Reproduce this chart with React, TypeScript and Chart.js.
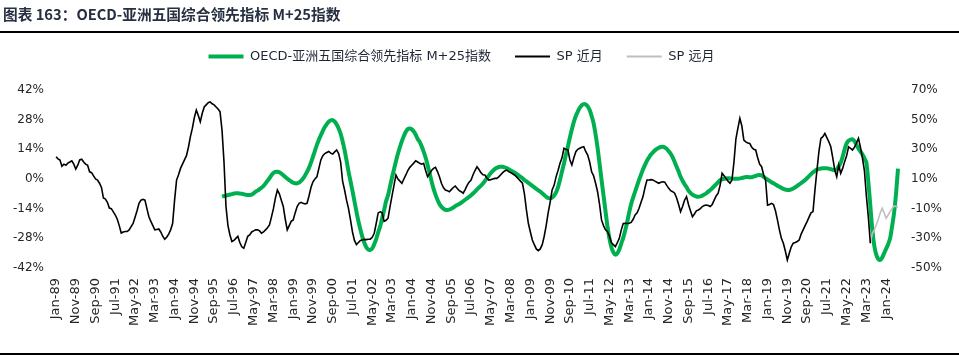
import React, { useEffect, useRef } from "react";
import { Chart, registerables } from "chart.js";

Chart.register(...registerables);

// ---------- categories: monthly, Jan-89 .. Jul-24 ----------
const MONTH_NAMES = ["Jan", "Feb", "Mar", "Apr", "May", "Jun", "Jul", "Aug", "Sep", "Oct", "Nov", "Dec"];
const FIRST_YEAR = 1989;
const MONTH_COUNT = 427;
const categories: string[] = [];
for (let i = 0; i < MONTH_COUNT; i++) {
  const y = FIRST_YEAR + Math.floor(i / 12);
  categories.push(`${MONTH_NAMES[i % 12]}-${String(y % 100).padStart(2, "0")}`);
}

// ---------- tick labels shown on the x axis ----------
const tickLabels = [
  "Jan-89", "Nov-89", "Sep-90", "Jul-91", "May-92", "Mar-93", "Jan-94", "Nov-94", "Sep-95", "Jul-96",
  "May-97", "Mar-98", "Jan-99", "Nov-99", "Sep-00", "Jul-01", "May-02", "Mar-03", "Jan-04", "Nov-04",
  "Sep-05", "Jul-06", "May-07", "Mar-08", "Jan-09", "Nov-09", "Sep-10", "Jul-11", "May-12", "Mar-13",
  "Jan-14", "Nov-14", "Sep-15", "Jul-16", "May-17", "Mar-18", "Jan-19", "Nov-19", "Sep-20", "Jul-21",
  "May-22", "Mar-23", "Jan-24",
];

// ---------- SP 近月 (left axis, %), Jan-1989 .. May-2023 ----------
const spNear: number[] = [
  10.5, 9.5, 9, 6, 7, 6.5, 7.5, 8, 8.6, 7, 4.7, 6.5, // 1989
  9, 9.3, 8, 7, 6.5, 3.4, 3, 1.5, 0, -0.5, -2, -4, // 1990
  -9, -9.5, -11, -13.7, -14, -15.5, -17, -19, -22, -25.5, -25, -24.8, // 1991
  -24.8, -24, -22.5, -21, -18, -15, -11.5, -10, -9.6, -10, -14, -17.8, // 1992
  -20, -22, -24, -23.8, -23.6, -25, -27, -28.4, -27.5, -26, -24, -21, // 1993
  -10, -0.5, 2, 5, 7, 9, 11, 15, 20, 24, 29, 32.5, // 1994
  30, 27, 31, 34, 35, 36, 36.4, 35.5, 35, 34, 33, 31.7, // 1995
  23, 8, -13, -22, -26.4, -29.5, -29, -28, -27, -30, -32, -32.7, // 1996
  -30, -27, -26.4, -25, -24.5, -24, -24, -24.5, -25.6, -25, -24, -23, // 1997
  -21.7, -18, -14, -9, -5.2, -7, -10, -13, -19, -24, -22, -20, // 1998
  -19.3, -16, -13, -11.5, -11, -11.5, -11.8, -11.5, -8, -4, -1.3, 0, // 1999
  1, 5, 9, 11, 12, 12.5, 13, 12.2, 11.8, 12.8, 13.7, 12, // 2000
  8, -1, -5.2, -10, -14, -19.3, -25, -29, -31, -30, -29, -28.8, // 2001
  -28.5, -28.6, -28.4, -28.4, -27.5, -25.6, -21, -16, -15.5, -15.9, -20, -19.5, // 2002
  -18.5, -13, -8, -3, 1.9, 0, -1, -2, 0, 1.9, 4, 5.5, // 2003
  6.5, 7.5, 8.6, 8, 7.4, 7, 7.4, 4, 1.1, 2.5, 4, 5, // 2004
  5.5, 3.5, 1.1, -2, -4, -5.2, -5.5, -6, -5, -4, -3.3, -4.5, // 2005
  -5.5, -6, -6.7, -5, -3, -1.5, -0.5, 2, 4, 5.8, 4.5, 3, // 2006
  2, 1.9, 0.5, -0.5, -0.3, 0, 0.3, 0.3, 1, 2, 3, 3.8, // 2007
  4.2, 3.5, 3, 2.5, 1.9, 1, 0, -1, -2, -7, -14.6, -21, // 2008
  -25, -28.8, -31, -33, -33.8, -33, -31, -27, -22, -16, -11, -5.2, // 2009
  -3, 1, 4, 7.4, 10, 14.5, 14, 13.7, 9, 6.6, 10, 12.9, // 2010
  14, 14.5, 15, 15.2, 13, 11.3, 8, 3.4, 1.5, -2, -6, -12, // 2011
  -19.3, -22, -24, -24.8, -27, -30, -31, -31.9, -30, -28, -24, -21, // 2012
  -20.9, -21, -20.9, -20.5, -19, -17, -16, -13.8, -11, -8.3, -4, -0.5, // 2013
  -0.5, -0.3, -0.5, -1, -1.5, -2, -1.5, -1.3, -1.5, -3, -4.4, -5.5, // 2014
  -6, -6.7, -9, -12, -15.4, -13, -10, -8.3, -12, -15, -17.8, -16.5, // 2015
  -15, -14.6, -14, -13, -12.5, -12.3, -12.5, -13, -12, -10, -8, -6.7, // 2016
  -3, 2.7, 1.5, 0.3, -1, -2, -0.5, 8, 19, 24, 28.6, 25, // 2017
  18.4, 17.5, 17, 16.8, 15, 14, 13.7, 10, 7, 5.8, 2, -0.5, // 2018
  -12.3, -12, -11.5, -12, -15, -19.3, -24, -28, -30.3, -34, -38.2, -35, // 2019
  -32, -30.3, -30, -29.5, -28.8, -26, -24, -22, -20.1, -18, -16, -15.4, // 2020
  -5, 4.2, 13, 19.2, 20, 21.5, 19.5, 17.6, 15.2, 10, 4.2, 1.1, // 2021
  6.6, 2.7, 5, 8.2, 11, 15.2, 14.5, 13.7, 15, 17, 19.2, 15, // 2022
  10, 4, -8, -18, -30.3, // 2023 (Jan-May)
];

// ---------- SP 远月 (left axis, %), May-2023 .. Jul-2024 ----------
const SP_FAR_START = "May-23";
const spFar: number[] = [
  -30.3, -25.6, -24, -21.7, -19, -16, -13.8, -16, -18.5, -17, -15.4, -14, -12.7, -13, -13.3,
];

// ---------- OECD-亚洲五国综合领先指标 M+25指数 (right axis, %), Jan-1996 .. Jul-2024 ----------
const OECD_START = "Jan-96";
const oecdLead: number[] = [
  -1.9, -1.5, -1.2, -0.8, -0.5, -0.2, 0.2, 0.4, 0.4, 0.2, 0, -0.3, // 1996
  -0.6, -0.8, -0.8, -0.5, 0.3, 1.5, 2.2, 3.2, 4.2, 5.3, 7, 8.8, // 1997
  10.5, 12.5, 14, 14.8, 14.9, 14.5, 13.6, 12.5, 11.3, 10.3, 9.3, 8.3, // 1998
  7.5, 7.1, 7.1, 7.6, 8.8, 10.3, 12.3, 14.8, 17.5, 21, 25, 29, // 1999
  33, 36.5, 39.5, 42.5, 45, 47, 48.6, 49.5, 49.7, 48.7, 46.7, 44, // 2000
  40.5, 35.5, 29.5, 22.5, 15, 8.5, 2, -5, -12, -18.5, -24, -29, // 2001
  -33, -36, -37.6, -37.8, -36.8, -34, -30.5, -26, -22, -16.5, -11, -5, // 2002
  -1, 5, 11, 16.5, 22, 27, 31.5, 35.5, 39, 41.8, 43.6, 44, // 2003
  43.5, 42, 39.8, 37, 35, 32, 28.5, 24.5, 19.5, 14, 8.5, 3.5, // 2004
  -0.5, -4, -6.8, -8.7, -10, -10.8, -10.9, -10.6, -10, -9.2, -8.3, -7.5, // 2005
  -6.8, -6, -5, -4, -3, -2, -1, 0.2, 1.5, 3, 4.3, 5.5, // 2006
  7, 8.7, 10.5, 12.3, 14, 15.5, 16.7, 17.5, 18.1, 18.3, 18.2, 17.8, // 2007
  17.3, 16.6, 15.8, 15, 14.4, 13.5, 12.5, 11.5, 10.5, 9.3, 8.4, 7.4, // 2008
  6.4, 5.4, 4.4, 3.4, 2.4, 1.5, 0.4, -0.8, -2, -2.8, -3, -2.6, // 2009
  -1.2, 1, 4.5, 9.5, 15, 20.5, 26.5, 32, 38, 43.5, 48.5, 52.5, // 2010
  55.5, 58, 59.7, 60.5, 60.3, 59, 56.5, 52.5, 47.5, 40, 31, 20.5, // 2011
  9.5, -1, -11.5, -22, -30, -36, -39.5, -41, -40, -37.5, -33.5, -29.5, // 2012
  -24.5, -19, -12.5, -6.8, -2.5, 1.5, 5.5, 9.5, 13, 16.5, 19.5, 22.3, // 2013
  24.5, 26.5, 28, 29.3, 30.3, 31.1, 31.6, 31.7, 31.3, 30.3, 28.7, 27, // 2014
  24.5, 21.5, 18.3, 15, 11.5, 8.8, 6.5, 4.5, 2.2, 0.6, -0.5, -1.3, // 2015
  -1.8, -1.9, -1.7, -1.2, -0.5, 0.4, 1.5, 2.6, 3.8, 5.1, 6.5, 7.9, // 2016
  9.2, 9.8, 10.2, 10.4, 10.5, 10.4, 10.3, 10.2, 10.1, 10.2, 10.4, 10.7, // 2017
  11, 11.3, 11.3, 11.1, 11.2, 11.6, 12.1, 12.6, 12.7, 12.4, 11.5, 10.5, // 2018
  9.6, 8.7, 7.8, 7.1, 6.3, 5.5, 4.7, 4, 3.4, 2.9, 2.6, 2.6, // 2019
  3, 3.6, 4.4, 5.3, 6.3, 7.3, 8.2, 9.3, 10.6, 12, 13.3, 14.5, // 2020
  15.5, 16.3, 16.8, 17.1, 17.2, 17.2, 17.2, 17, 16.6, 16.2, 16, 16.5, // 2021
  18.5, 21, 25, 30, 34, 35.8, 36.6, 36.7, 35.5, 33, 30.5, 28.5, // 2022
  26.5, 24, 21, 8, -8, -24, -35, -41, -44, -44.5, -43, -40, // 2023
  -37, -34, -30, -22, -13, 0, 17, // 2024 (Jan-Jul)
];

const LEFT_MIN = -42, LEFT_MAX = 42, LEFT_STEP = 14;
const RIGHT_MIN = -50, RIGHT_MAX = 70, RIGHT_STEP = 20;

const TITLE = "图表 163：OECD-亚洲五国综合领先指标 M+25指数";
const LABEL_OECD = "OECD-亚洲五国综合领先指标 M+25指数";
const LABEL_NEAR = "SP 近月";
const LABEL_FAR = "SP 远月";

// place a series that starts at a given month on the full monthly category axis
function onAxis(startLabel: string, values: number[]): (number | null)[] {
  const start = categories.indexOf(startLabel);
  const out: (number | null)[] = new Array(MONTH_COUNT).fill(null);
  values.forEach((v, i) => {
    if (start + i < MONTH_COUNT) out[start + i] = v;
  });
  return out;
}

const FONT = "'DejaVu Sans', 'Noto Sans CJK SC', sans-serif";

// adds room under the legend and shifts it a little to the left
const legendTweak = {
  id: "legendTweak",
  beforeLayout(chart: any) {
    const lg = chart.legend;
    if (lg && !lg._gapPatched) {
      const orig = lg.fit.bind(lg);
      lg.fit = function () {
        orig();
        this.height += 17;
      };
      lg._gapPatched = true;
    }
  },
  afterLayout(chart: any) {
    const lg = chart.legend;
    if (lg) lg.right = lg.right - 36;
  },
};

export default function App() {
  const ref = useRef<HTMLCanvasElement>(null);

  useEffect(() => {
    const tickSet = new Set(tickLabels);
    const legendRank: Record<number, number> = { 2: 0, 0: 1, 1: 2 };
    const chart = new Chart(ref.current as HTMLCanvasElement, {
      type: "line",
      data: {
        labels: categories,
        datasets: [
          {
            label: LABEL_NEAR,
            data: onAxis("Jan-89", spNear),
            borderColor: "#000000",
            backgroundColor: "#000000",
            borderWidth: 1.6,
            pointRadius: 0,
            pointBorderWidth: 2,
            tension: 0,
            yAxisID: "y",
          },
          {
            label: LABEL_FAR,
            data: onAxis(SP_FAR_START, spFar),
            borderColor: "#BFBFBF",
            backgroundColor: "#BFBFBF",
            borderWidth: 1.6,
            pointRadius: 0,
            pointBorderWidth: 2,
            tension: 0,
            yAxisID: "y",
          },
          {
            label: LABEL_OECD,
            data: onAxis(OECD_START, oecdLead),
            borderColor: "#00B050",
            backgroundColor: "#00B050",
            borderWidth: 4,
            pointRadius: 0,
            pointBorderWidth: 4,
            tension: 0.3,
            yAxisID: "y1",
          },
        ],
      },
      options: {
        responsive: false,
        animation: false,
        devicePixelRatio: 1,
        layout: { padding: { top: 26, right: 0, left: 0, bottom: 0 } },
        plugins: {
          tooltip: { enabled: false },
          legend: {
            position: "top",
            labels: {
              usePointStyle: true,
              pointStyle: "line",
              pointStyleWidth: 35,
              padding: 24,
              color: "#1e2633",
              font: { size: 13, family: FONT },
              sort: (a: any, b: any) => legendRank[a.datasetIndex] - legendRank[b.datasetIndex],
            },
          },
        },
        scales: {
          x: {
            type: "category",
            offset: false,
            grid: { display: false, drawTicks: false },
            border: { display: false },
            ticks: {
              autoSkip: false,
              minRotation: 90,
              maxRotation: 90,
              padding: 10,
              color: "#262626",
              font: { size: 13, family: FONT },
              callback: (_v: any, i: number) => (tickSet.has(categories[i]) ? categories[i] : ""),
            },
            afterFit: (s: any) => {
              s.height = 89;
            },
          },
          y: {
            position: "left",
            min: LEFT_MIN,
            max: LEFT_MAX,
            grid: { display: false, drawTicks: false },
            border: { display: false },
            ticks: {
              stepSize: LEFT_STEP,
              padding: 12,
              color: "#262626",
              font: { size: 12, family: FONT },
              callback: (v: any) => `${v}%`,
            },
            afterFit: (s: any) => {
              s.width = 56;
            },
          },
          y1: {
            position: "right",
            min: RIGHT_MIN,
            max: RIGHT_MAX,
            grid: { display: false, drawTicks: false },
            border: { display: false },
            ticks: {
              stepSize: RIGHT_STEP,
              padding: 13,
              color: "#262626",
              font: { size: 12, family: FONT },
              callback: (v: any) => `${v}%`,
            },
            afterFit: (s: any) => {
              s.width = 61;
            },
          },
        },
      } as any,
      plugins: [legendTweak],
    });
    return () => chart.destroy();
  }, []);

  return (
    <div
      style={{
        position: "absolute",
        left: 0,
        top: 0,
        width: 959,
        height: 357,
        background: "#ffffff",
        overflow: "hidden",
      }}
    >
      <canvas ref={ref} width={959} height={357} style={{ position: "absolute", left: 0, top: 0 }} />
      <div
        style={{
          position: "absolute",
          left: 3,
          top: 4,
          fontFamily: "'Noto Sans CJK SC', sans-serif",
          fontWeight: 700,
          fontSize: 14.7,
          lineHeight: "20px",
          color: "#263040",
          whiteSpace: "nowrap",
        }}
      >
        {TITLE}
      </div>
      <div style={{ position: "absolute", left: 0, top: 31, width: 959, height: 2, background: "#000" }} />
      <div style={{ position: "absolute", left: 0, top: 353, width: 959, height: 2, background: "#000" }} />
    </div>
  );
}
